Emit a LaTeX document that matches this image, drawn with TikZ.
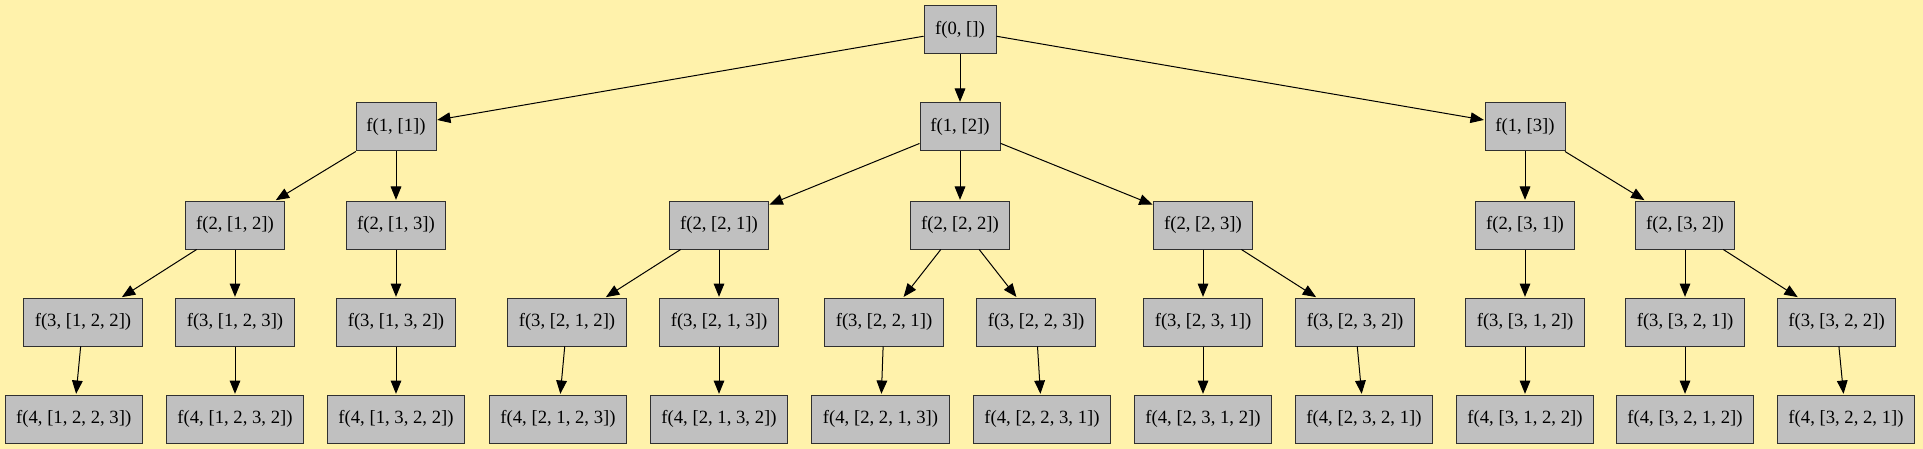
\documentclass[tikz,border=0pt]{standalone}
\usepackage{fontspec}
\setmainfont{Liberation Serif}
\usetikzlibrary{arrows.meta}
\definecolor{bgc}{HTML}{FFF2AB}
\definecolor{boxfill}{HTML}{C0C0C0}
\definecolor{boxline}{HTML}{303030}
\tikzset{
  nd/.style={draw=boxline, fill=boxfill, line width=0.75pt, minimum height=36pt, inner sep=0pt, font=\fontsize{14}{16}\selectfont},
  lv0/.style={nd, minimum width=54pt},
  lv1/.style={nd, minimum width=60pt},
  lv2/.style={nd, minimum width=74pt},
  lv3/.style={nd, minimum width=89pt},
  lv4/.style={nd, minimum width=103pt},
  edge/.style={draw=black, line width=0.75pt, -{Triangle[length=10pt, width=8pt]}, shorten >=0.5pt}
}
\begin{document}
\begin{tikzpicture}[x=0.75pt, y=-0.75pt]
\fill[bgc] (0,0) rectangle (1923,449);
\useasboundingbox (0,0) rectangle (1923,449);
% level 0
\node[lv0] (r) at (960,30) {f(0, [])};
% level 1
\node[lv1] (a1) at (396,127) {f(1, [1])};
\node[lv1] (a2) at (960,127) {f(1, [2])};
\node[lv1] (a3) at (1525,127) {f(1, [3])};
% level 2
\node[lv2] (b12) at (235,225) {f(2, [1, 2])};
\node[lv2] (b13) at (396,225) {f(2, [1, 3])};
\node[lv2] (b21) at (719,225) {f(2, [2, 1])};
\node[lv2] (b22) at (960,225) {f(2, [2, 2])};
\node[lv2] (b23) at (1203,225) {f(2, [2, 3])};
\node[lv2] (b31) at (1525,225) {f(2, [3, 1])};
\node[lv2] (b32) at (1685,225) {f(2, [3, 2])};
% level 3
\node[lv3] (c122) at (83,322) {f(3, [1, 2, 2])};
\node[lv3] (c123) at (235,322) {f(3, [1, 2, 3])};
\node[lv3] (c132) at (396,322) {f(3, [1, 3, 2])};
\node[lv3] (c212) at (567,322) {f(3, [2, 1, 2])};
\node[lv3] (c213) at (719,322) {f(3, [2, 1, 3])};
\node[lv3] (c221) at (884,322) {f(3, [2, 2, 1])};
\node[lv3] (c223) at (1036,322) {f(3, [2, 2, 3])};
\node[lv3] (c231) at (1203,322) {f(3, [2, 3, 1])};
\node[lv3] (c232) at (1355,322) {f(3, [2, 3, 2])};
\node[lv3] (c312) at (1525,322) {f(3, [3, 1, 2])};
\node[lv3] (c321) at (1685,322) {f(3, [3, 2, 1])};
\node[lv3] (c322) at (1836.5,322) {f(3, [3, 2, 2])};
% level 4
\node[lv4] (d1223) at (73.7,419) {f(4, [1, 2, 2, 3])};
\node[lv4] (d1232) at (235,419) {f(4, [1, 2, 3, 2])};
\node[lv4] (d1322) at (396,419) {f(4, [1, 3, 2, 2])};
\node[lv4] (d2123) at (558,419) {f(4, [2, 1, 2, 3])};
\node[lv4] (d2132) at (719,419) {f(4, [2, 1, 3, 2])};
\node[lv4] (d2213) at (880.5,419) {f(4, [2, 2, 1, 3])};
\node[lv4] (d2231) at (1042,419) {f(4, [2, 2, 3, 1])};
\node[lv4] (d2312) at (1203,419) {f(4, [2, 3, 1, 2])};
\node[lv4] (d2321) at (1364,419) {f(4, [2, 3, 2, 1])};
\node[lv4] (d3122) at (1525,419) {f(4, [3, 1, 2, 2])};
\node[lv4] (d3212) at (1685,419) {f(4, [3, 2, 1, 2])};
\node[lv4] (d3221) at (1846,419) {f(4, [3, 2, 2, 1])};
% edges
\foreach \p/\c in {r/a1, r/a2, r/a3,
  a1/b12, a1/b13, a2/b21, a2/b22, a2/b23, a3/b31, a3/b32,
  b12/c122, b12/c123, b13/c132, b21/c212, b21/c213, b22/c221, b22/c223,
  b23/c231, b23/c232, b31/c312, b32/c321, b32/c322,
  c122/d1223, c123/d1232, c132/d1322, c212/d2123, c213/d2132, c221/d2213,
  c223/d2231, c231/d2312, c232/d2321, c312/d3122, c321/d3212, c322/d3221}
  \draw[edge] (\p) -- (\c);
\end{tikzpicture}
\end{document}
